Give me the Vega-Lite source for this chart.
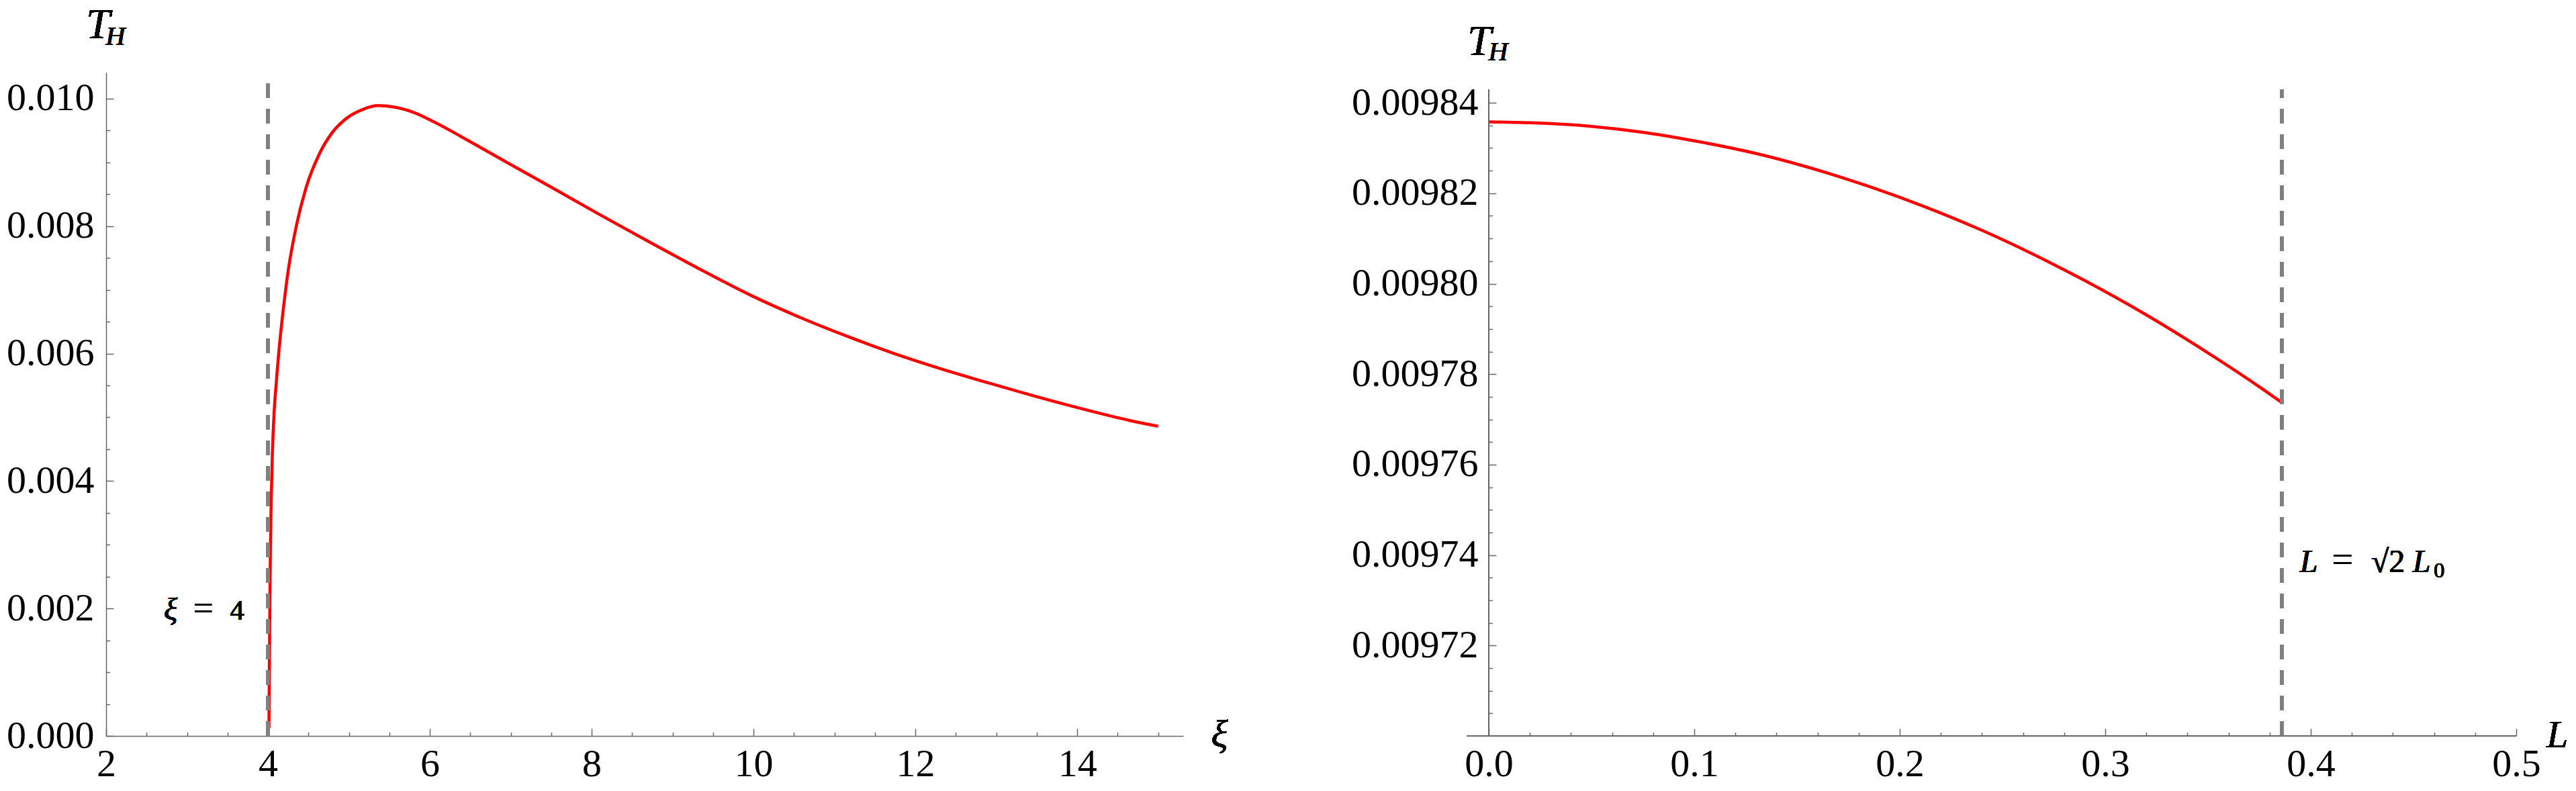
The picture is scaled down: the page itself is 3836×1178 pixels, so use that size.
{
  "$schema": "https://vega.github.io/schema/vega-lite/v6.json",
  "padding": {"left": 9, "top": 6, "right": 0, "bottom": 0},
  "background": "white",
  "bounds": "flush",
  "spacing": 455,
  "datasets": {
    "xi_curve": [
      {"xi": 4.012, "T": 0.00012},
      {"xi": 4.016, "T": 0.0009},
      {"xi": 4.022, "T": 0.0018},
      {"xi": 4.03, "T": 0.0029},
      {"xi": 4.042, "T": 0.0038},
      {"xi": 4.055, "T": 0.00444},
      {"xi": 4.075, "T": 0.00505},
      {"xi": 4.1, "T": 0.0055},
      {"xi": 4.14, "T": 0.0061},
      {"xi": 4.19, "T": 0.0067},
      {"xi": 4.25, "T": 0.0073},
      {"xi": 4.35, "T": 0.008},
      {"xi": 4.47, "T": 0.0086},
      {"xi": 4.63, "T": 0.00912},
      {"xi": 4.79, "T": 0.00946},
      {"xi": 4.98, "T": 0.0097},
      {"xi": 5.17, "T": 0.00983},
      {"xi": 5.36, "T": 0.00989},
      {"xi": 5.55, "T": 0.00987},
      {"xi": 5.81, "T": 0.00978},
      {"xi": 6.06, "T": 0.00963},
      {"xi": 6.38, "T": 0.00941},
      {"xi": 6.91, "T": 0.00903},
      {"xi": 7.5, "T": 0.00861},
      {"xi": 8.1, "T": 0.00818},
      {"xi": 8.7, "T": 0.00776},
      {"xi": 9.3, "T": 0.00735},
      {"xi": 9.99, "T": 0.0069},
      {"xi": 10.57, "T": 0.00657},
      {"xi": 11.16, "T": 0.00627},
      {"xi": 11.74, "T": 0.006},
      {"xi": 12.32, "T": 0.00576},
      {"xi": 12.9, "T": 0.00554},
      {"xi": 13.48, "T": 0.00533},
      {"xi": 14.07, "T": 0.00513},
      {"xi": 14.65, "T": 0.00495},
      {"xi": 15.0, "T": 0.00486}
    ],
    "l_curve": [
      {"L": 0.0, "T": 0.0098358},
      {"L": 0.02, "T": 0.0098356},
      {"L": 0.05, "T": 0.0098348},
      {"L": 0.075, "T": 0.0098335},
      {"L": 0.1, "T": 0.0098316},
      {"L": 0.13, "T": 0.0098288},
      {"L": 0.155, "T": 0.0098258},
      {"L": 0.185, "T": 0.0098215},
      {"L": 0.21, "T": 0.0098174},
      {"L": 0.24, "T": 0.0098118},
      {"L": 0.265, "T": 0.0098065},
      {"L": 0.29, "T": 0.0098007},
      {"L": 0.32, "T": 0.0097931},
      {"L": 0.35, "T": 0.0097847},
      {"L": 0.375, "T": 0.0097772},
      {"L": 0.386, "T": 0.0097737}
    ]
  },
  "hconcat": [
    {
      "width": 1604,
      "height": 988,
      "data": {"name": "xi_curve"},
      "layer": [
        {
          "mark": {"type": "line", "color": "#ff0000", "strokeWidth": 4.5, "interpolate": "monotone"},
          "encoding": {
            "x": {"field": "xi", "type": "quantitative",
              "scale": {"domain": [2, 15.31], "nice": false, "zero": false},
              "axis": {"orient": "bottom", "title": null, "values": [2, 4, 6, 8, 10, 12, 14], "format": "d", "tickSize": -11, "labelPadding": 24}},
            "y": {"field": "T", "type": "quantitative",
              "scale": {"domain": [0, 0.01041], "nice": false, "zero": false},
              "axis": {"orient": "left", "title": null, "values": [0, 0.002, 0.004, 0.006, 0.008, 0.01], "format": ".3f", "tickSize": -11, "labelPadding": 29}}
          }
        },
        {
          "mark": {"type": "line", "strokeOpacity": 0},
          "encoding": {
            "x": {"field": "xi", "type": "quantitative",
              "axis": {"orient": "bottom", "title": null, "labels": false, "domain": false, "tickSize": -5.5,
                "values": [2.5, 3, 3.5, 4.5, 5, 5.5, 6.5, 7, 7.5, 8.5, 9, 9.5, 10.5, 11, 11.5, 12.5, 13, 13.5, 14.5, 15]}},
            "y": {"field": "T", "type": "quantitative",
              "axis": {"orient": "left", "title": null, "labels": false, "domain": false, "tickSize": -5.5,
                "values": [0.0005, 0.001, 0.0015, 0.0025, 0.003, 0.0035, 0.0045, 0.005, 0.0055, 0.0065, 0.007, 0.0075, 0.0085, 0.009, 0.0095]}}
          }
        },
        {
          "mark": {"type": "rule", "color": "#808080", "strokeWidth": 5, "strokeDash": [22, 16]},
          "encoding": {
            "x": {"datum": 4, "axis": null},
            "y": {"datum": 0, "axis": null},
            "y2": {"datum": 0.01041}
          }
        },
        {
          "mark": {"type": "text", "text": "T", "font": "Liberation Serif", "fontStyle": "italic", "fontSize": 64, "align": "center", "baseline": "alphabetic", "dx": -12, "dy": -51, "color": "black"},
          "encoding": {"x": {"datum": 2, "axis": null}, "y": {"datum": 0.01041, "axis": null}}
        },
        {
          "mark": {"type": "text", "text": "H", "font": "Liberation Serif", "fontStyle": "italic", "fontSize": 40, "align": "center", "baseline": "alphabetic", "dx": 14, "dy": -41, "color": "black"},
          "encoding": {"x": {"datum": 2, "axis": null}, "y": {"datum": 0.01041, "axis": null}}
        },
        {
          "mark": {"type": "text", "text": "ξ", "font": "Liberation Serif", "fontStyle": "italic", "fontSize": 58, "align": "center", "baseline": "alphabetic", "dx": 54, "dy": 16, "color": "black"},
          "encoding": {"x": {"datum": 15.31, "axis": null}, "y": {"datum": 0, "axis": null}}
        },
        {
          "mark": {"type": "text", "text": "ξ", "font": "Liberation Serif", "fontStyle": "italic", "fontSize": 46, "align": "center", "baseline": "alphabetic", "dx": -145, "dy": 17, "color": "black"},
          "encoding": {"x": {"datum": 4, "axis": null}, "y": {"datum": 0.002, "axis": null}}
        },
        {
          "mark": {"type": "text", "text": "=", "font": "Liberation Serif", "fontSize": 52, "align": "center", "baseline": "alphabetic", "dx": -96, "dy": 17, "color": "black"},
          "encoding": {"x": {"datum": 4, "axis": null}, "y": {"datum": 0.002, "axis": null}}
        },
        {
          "mark": {"type": "text", "text": "4", "font": "Liberation Serif", "fontSize": 42, "align": "center", "baseline": "alphabetic", "dx": -46, "dy": 17, "color": "black"},
          "encoding": {"x": {"datum": 4, "axis": null}, "y": {"datum": 0.002, "axis": null}}
        }
      ],
      "resolve": {"axis": {"x": "independent", "y": "independent"}}
    },
    {
      "width": 1530,
      "height": 988,
      "data": {"name": "l_curve"},
      "layer": [
        {
          "mark": {"type": "line", "color": "#ff0000", "strokeWidth": 4.5, "interpolate": "monotone"},
          "encoding": {
            "x": {"field": "L", "type": "quantitative",
              "scale": {"domain": [0, 0.5], "nice": false, "zero": false},
              "axis": {"orient": "bottom", "title": null, "domain": false, "values": [0, 0.1, 0.2, 0.3, 0.4, 0.5], "format": ".1f", "tickSize": -11, "labelPadding": 24}},
            "y": {"field": "T", "type": "quantitative",
              "scale": {"domain": [0.0097, 0.0098467], "nice": false, "zero": false},
              "axis": {"orient": "left", "title": null, "domain": false, "values": [0.00972, 0.00974, 0.00976, 0.00978, 0.0098, 0.00982, 0.00984], "format": ".5f", "tickSize": -11, "labelPadding": 27}}
          }
        },
        {
          "mark": {"type": "line", "strokeOpacity": 0},
          "encoding": {
            "x": {"field": "L", "type": "quantitative",
              "axis": {"orient": "bottom", "title": null, "labels": false, "domain": false, "tickSize": -5.5,
                "values": [0.02, 0.04, 0.06, 0.08, 0.12, 0.14, 0.16, 0.18, 0.22, 0.24, 0.26, 0.28, 0.32, 0.34, 0.36, 0.38, 0.42, 0.44, 0.46, 0.48]}},
            "y": {"field": "T", "type": "quantitative",
              "axis": {"orient": "left", "title": null, "labels": false, "domain": false, "tickSize": -5.5,
                "values": [0.009705, 0.00971, 0.009715, 0.009725, 0.00973, 0.009735, 0.009745, 0.00975, 0.009755, 0.009765, 0.00977, 0.009775, 0.009785, 0.00979, 0.009795, 0.009805, 0.00981, 0.009815, 0.009825, 0.00983, 0.009835]}}
          }
        },
        {
          "mark": {"type": "rule", "color": "#666666", "strokeWidth": 1.5},
          "encoding": {
            "x": {"datum": 0, "axis": null},
            "y": {"datum": 0.0097, "axis": null},
            "y2": {"datum": 0.009843}
          }
        },
        {
          "mark": {"type": "rule", "color": "#666666", "strokeWidth": 1.5},
          "encoding": {
            "x": {"datum": -0.0107, "axis": null},
            "x2": {"datum": 0.5},
            "y": {"datum": 0.0097, "axis": null}
          }
        },
        {
          "mark": {"type": "rule", "color": "#808080", "strokeWidth": 5, "strokeDash": [22, 16]},
          "encoding": {
            "x": {"datum": 0.386, "axis": null},
            "y": {"datum": 0.0097, "axis": null},
            "y2": {"datum": 0.009843}
          }
        },
        {
          "mark": {"type": "text", "text": "T", "font": "Liberation Serif", "fontStyle": "italic", "fontSize": 64, "align": "center", "baseline": "alphabetic", "dx": -14, "dy": -26, "color": "black"},
          "encoding": {"x": {"datum": 0, "axis": null}, "y": {"datum": 0.0098467, "axis": null}}
        },
        {
          "mark": {"type": "text", "text": "H", "font": "Liberation Serif", "fontStyle": "italic", "fontSize": 40, "align": "center", "baseline": "alphabetic", "dx": 14, "dy": -18, "color": "black"},
          "encoding": {"x": {"datum": 0, "axis": null}, "y": {"datum": 0.0098467, "axis": null}}
        },
        {
          "mark": {"type": "text", "text": "L", "font": "Liberation Serif", "fontStyle": "italic", "fontSize": 58, "align": "center", "baseline": "alphabetic", "dx": 61, "dy": 17, "color": "black"},
          "encoding": {"x": {"datum": 0.5, "axis": null}, "y": {"datum": 0.0097, "axis": null}}
        },
        {
          "mark": {"type": "text", "text": "L", "font": "Liberation Serif", "fontStyle": "italic", "fontSize": 48, "align": "center", "baseline": "alphabetic", "dx": 40, "dy": 25, "color": "black"},
          "encoding": {"x": {"datum": 0.386, "axis": null}, "y": {"datum": 0.00974, "axis": null}}
        },
        {
          "mark": {"type": "text", "text": "=", "font": "Liberation Serif", "fontSize": 56, "align": "center", "baseline": "alphabetic", "dx": 90, "dy": 25, "color": "black"},
          "encoding": {"x": {"datum": 0.386, "axis": null}, "y": {"datum": 0.00974, "axis": null}}
        },
        {
          "mark": {"type": "text", "text": "√2", "font": "Liberation Serif", "fontSize": 48, "align": "center", "baseline": "alphabetic", "dx": 158, "dy": 25, "color": "black"},
          "encoding": {"x": {"datum": 0.386, "axis": null}, "y": {"datum": 0.00974, "axis": null}}
        },
        {
          "mark": {"type": "text", "text": "L", "font": "Liberation Serif", "fontStyle": "italic", "fontSize": 48, "align": "center", "baseline": "alphabetic", "dx": 208, "dy": 25, "color": "black"},
          "encoding": {"x": {"datum": 0.386, "axis": null}, "y": {"datum": 0.00974, "axis": null}}
        },
        {
          "mark": {"type": "text", "text": "0", "font": "Liberation Serif", "fontSize": 32, "align": "center", "baseline": "alphabetic", "dx": 234, "dy": 33, "color": "black"},
          "encoding": {"x": {"datum": 0.386, "axis": null}, "y": {"datum": 0.00974, "axis": null}}
        }
      ],
      "resolve": {"axis": {"x": "independent", "y": "independent"}}
    }
  ],
  "config": {
    "view": {"stroke": null},
    "axis": {
      "grid": false,
      "labelFont": "Liberation Serif",
      "labelFontSize": 58,
      "labelColor": "#000000",
      "labelLimit": 1000,
      "labelFlush": false,
      "labelOverlap": false,
      "domainColor": "#666666",
      "domainWidth": 1.5,
      "tickColor": "#666666",
      "tickWidth": 1.5
    }
  }
}
